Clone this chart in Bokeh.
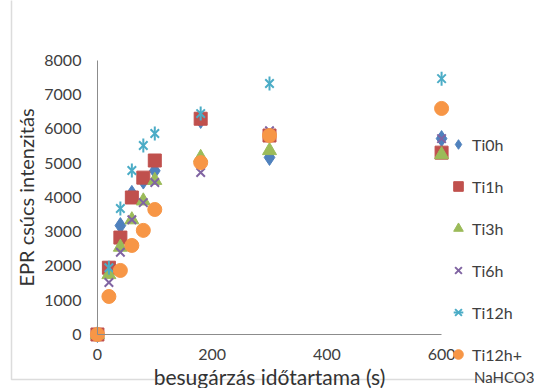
from bokeh.plotting import figure
from bokeh.models import Range1d, FixedTicker, Legend, LegendItem, BoxAnnotation
from bokeh.embed import file_html
from bokeh.resources import INLINE
import math

# data
time_s = [0, 20, 40, 60, 80, 100, 180, 300, 600]
ti0h = [0, 1900, 3180, 4120, 4480, 4780, 6250, 5170, 5720]
ti1h = [0, 1950, 2830, 4000, 4580, 5080, 6300, 5810, 5310]
ti3h = [0, 1750, 2550, 3350, 3900, 4500, 5170, 5370, 5250]
ti6h = [0, 1520, 2400, 3350, 3850, 4440, 4730, 5950, 5720]
ti12h = [0, 1950, 3680, 4790, 5520, 5870, 6450, 7330, 7470]
ti12h_na = [0, 1110, 1870, 2600, 3040, 3650, 5020, 5810, 6600]

labels = ["Ti0h", "Ti1h", "Ti3h", "Ti6h", "Ti12h", "Ti12h+"]
label_cont = "NaHCO3"
y_ticks = [0, 1000, 2000, 3000, 4000, 5000, 6000, 7000, 8000]
x_ticks = [0, 200, 400, 600]

FONT = "Lato"
TXT = "#404040"
AXC = "#8c8c8c"

# the frame covers the whole canvas; axes sit at data zero
p = figure(width=534, height=388, output_backend="svg", toolbar_location=None,
           x_range=Range1d(-169, 762), y_range=Range1d(-1577, 9752),
           min_border_left=0, min_border_top=0, min_border_right=0,
           min_border_bottom=0)
p.outline_line_color = None
p.grid.visible = False

for ax in (p.xaxis[0], p.yaxis[0]):
    ax.fixed_location = 0
    ax.axis_line_color = AXC
    ax.axis_line_width = 1
    ax.major_tick_line_color = None
    ax.minor_tick_line_color = None
    ax.major_tick_out = 0
    ax.major_tick_in = 0
    ax.minor_tick_out = 0
    ax.minor_tick_in = 0
    ax.major_label_text_font = FONT
    ax.major_label_text_font_size = "16px"
    ax.major_label_text_color = TXT
    ax.axis_label_text_font = FONT
    ax.axis_label_text_font_style = "normal"
    ax.axis_label_text_color = "#333333"

p.yaxis[0].bounds = (y_ticks[0], y_ticks[-1])
p.yaxis[0].ticker = FixedTicker(ticks=y_ticks)
p.yaxis[0].major_label_standoff = 16
p.yaxis[0].axis_label = "EPR csúcs intenzitás"
p.yaxis[0].axis_label_text_font_size = "20px"
p.yaxis[0].axis_label_standoff = 3
p.xaxis[0].bounds = (x_ticks[0], x_ticks[-1])
p.xaxis[0].ticker = FixedTicker(ticks=x_ticks)
p.xaxis[0].major_label_standoff = 15
p.xaxis[0].axis_label = "besugárzás időtartama (s)"
p.xaxis[0].axis_label_text_font_size = "21px"
p.xaxis[0].axis_label_standoff = 0

# chart-area border (left and top edges visible)
p.add_layout(BoxAnnotation(left=11, right=600, top=9, bottom=500,
                           left_units="screen", right_units="screen",
                           top_units="screen", bottom_units="screen",
                           fill_alpha=0, line_color=AXC, line_width=1.5,
                           level="underlay"))

r0 = p.scatter(time_s, ti0h, marker="diamond", size=16,
               fill_color="#4F81BD", line_color="#4F81BD")
r1 = p.scatter(time_s, ti1h, marker="square", size=13,
               fill_color="#C0504D", line_color="#C0504D")
r2 = p.scatter(time_s, ti3h, marker="triangle", size=14,
               fill_color="#9BBB59", line_color="#9BBB59")
r3 = p.scatter(time_s, ti6h, marker="x", size=12,
               line_color="#8064A2", line_width=2)
r4a = p.scatter(time_s, ti12h, marker="x", size=12,
                line_color="#4BACC6", line_width=2)
r4b = p.scatter(time_s, ti12h, marker="dash", angle=math.pi / 2, size=14,
                line_color="#4BACC6", line_width=2)
r5 = p.scatter(time_s, ti12h_na, marker="circle", size=14,
               fill_color="#F79646", line_color="#F79646")
r_blank = p.scatter(x=[], y=[], marker="circle", size=1,
                    fill_alpha=0, line_alpha=0)

items = [
    LegendItem(label=labels[0], renderers=[r0]),
    LegendItem(label=labels[1], renderers=[r1]),
    LegendItem(label=labels[2], renderers=[r2]),
    LegendItem(label=labels[3], renderers=[r3]),
    LegendItem(label=labels[4], renderers=[r4a, r4b]),
    LegendItem(label=labels[5], renderers=[r5]),
]
legend = Legend(items=items, location=(446, 22), border_line_color=None,
                background_fill_alpha=0, label_text_font=FONT,
                label_text_font_size="16px", label_text_color=TXT,
                glyph_width=24, glyph_height=24, spacing=18, padding=4,
                margin=0, label_standoff=2)
p.add_layout(legend, "center")

legend2 = Legend(items=[LegendItem(label=label_cont, renderers=[r_blank])],
                 location=(448, 2), border_line_color=None,
                 background_fill_alpha=0, label_text_font=FONT,
                 label_text_font_size="15px", label_text_color=TXT,
                 glyph_width=24, glyph_height=18, padding=2, margin=0,
                 label_standoff=2)
p.add_layout(legend2, "center")

open("out.html", "w").write(file_html(p, INLINE))
